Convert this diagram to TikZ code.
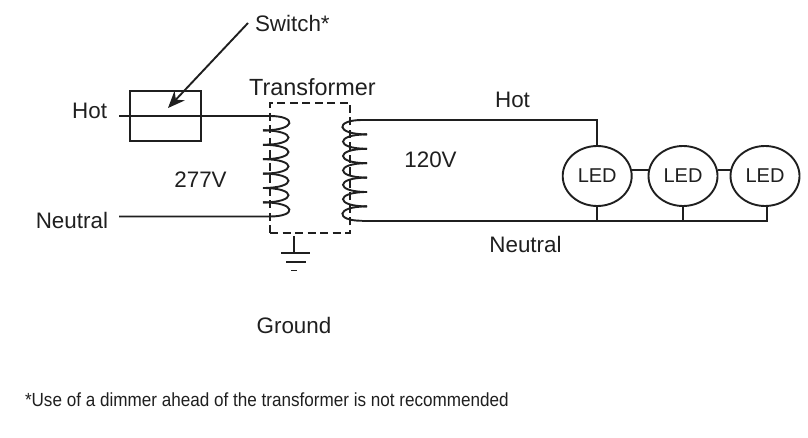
\documentclass[tikz,border=0pt]{standalone}
\usepackage{fontspec}
\setmainfont{Liberation Sans}
\newfontfamily\notefont{Liberation Sans}[FakeStretch=0.9]
\usetikzlibrary{shapes.geometric,arrows.meta}

\tikzset{
    wire/.style={line width=1.9pt,draw=black!88},
    label/.style={inner sep=0pt,outer sep=0pt,text=black!88,font=\fontsize{22.4}{24}\selectfont},
    led/.style={wire,ellipse,minimum width=69pt,minimum height=60pt,inner sep=0pt,outer sep=0pt,text=black!88,font=\fontsize{20}{24}\selectfont},
}

\begin{document}
\begin{tikzpicture}[x=1pt,y=-1pt]
    \useasboundingbox (0,0) rectangle (808,438);
    \def\looph{14.4}

    % switch and core
    \node[wire,draw,minimum width=71pt,minimum height=50pt,inner sep=0pt,outer sep=0pt] (switch) at (165.5,116.2) {};
    \node[draw=black!88,line width=1.7pt,dash pattern=on 8pt off 4.5pt,minimum width=80pt,minimum height=130pt,inner sep=0pt,outer sep=0pt] (core) at (310,168) {};

    \coordinate (hotin) at (119,116);
    \coordinate (neutralin) at (119,216.5);
    \coordinate (priA) at (270,116);
    \coordinate (priB) at (270,216.5);
    \coordinate (secA) at (362,120);
    \coordinate (secB) at (362,220.8);

    % primary coil
    \draw[wire] (hotin) -- (priA) .. controls (297,116) and (297,130.4) .. (263,130.4);
    \foreach \i in {1,...,5}{
        \pgfmathsetmacro{\ya}{116+\i*\looph}
        \pgfmathsetmacro{\yb}{116+(\i+1)*\looph}
        \draw[wire] (263,\ya) .. controls (297,\ya) and (297,\yb) .. (263,\yb);
    }
    \draw[wire] (263,202.4) .. controls (297,202.4) and (297,216.5) .. (priB) -- (neutralin);

    % secondary coil
    \draw[wire] (secA) .. controls (335,120) and (335,134.4) .. (367,134.4);
    \foreach \i in {1,...,5}{
        \pgfmathsetmacro{\ya}{120+\i*\looph}
        \pgfmathsetmacro{\yb}{120+(\i+1)*\looph}
        \draw[wire] (367,\ya) .. controls (335,\ya) and (335,\yb) .. (367,\yb);
    }
    \draw[wire] (367,206.4) .. controls (335,206.4) and (335,220.8) .. (secB);

    % leds
    \node[led,draw] (led1) at (597.2,176) {LED};
    \node[led,draw] (led2) at (683,176) {LED};
    \node[led,draw] (led3) at (765,176) {LED};
    \coordinate (botend) at (767,220.8);

    \draw[wire] (secA) -| (led1.north);
    \draw[wire] (secB) -- (botend) -- (led3.south -| botend);
    \draw[wire] (led1.south) -- (led1.south |- botend);
    \draw[wire] (led2.south) -- (led2.south |- botend);
    \draw[wire] ([yshift=6pt]led1.east) -- ([yshift=6pt]led2.west);
    \draw[wire] ([yshift=6pt]led2.east) -- ([yshift=6pt]led3.west);

    % ground
    \coordinate (gnd) at (294,236);
    \draw[wire] (gnd) -- ++(0,17);
    \draw[wire] (281,253) -- (310,253);
    \draw[wire] (286,262) -- (306,262);
    \draw[wire] (291,270.5) -- (297,270.5);

    % labels
    \node[label,anchor=west] (switchtxt) at (255,23) {Switch*};
    \coordinate (swtip) at (168,108);
    \draw[wire,-{Stealth[length=17pt,width=14pt]}] (switchtxt.west) ++(-7,0) -- (swtip);
    \node[label,anchor=east] (hotl) at (107,111) {Hot};
    \node[label,anchor=east] (neutl) at (108,220) {Neutral};
    \node[label,font=\fontsize{23.4}{24}\selectfont] (xfmr) at (312.5,87) {Transformer};
    \node[label] (vin) at (200.5,180) {277V};
    \node[label] (vout) at (430.5,160) {120V};
    \node[label] (hotr) at (512.5,100) {Hot};
    \node[label] (neutr) at (525.5,244) {Neutral};
    \node[label] (ground) at (294,325) {Ground};
    \node[label,anchor=west,font=\notefont\fontsize{19}{22}\selectfont] (note) at (25,400) {*Use of a dimmer ahead of the transformer is not recommended};
\end{tikzpicture}
\end{document}
